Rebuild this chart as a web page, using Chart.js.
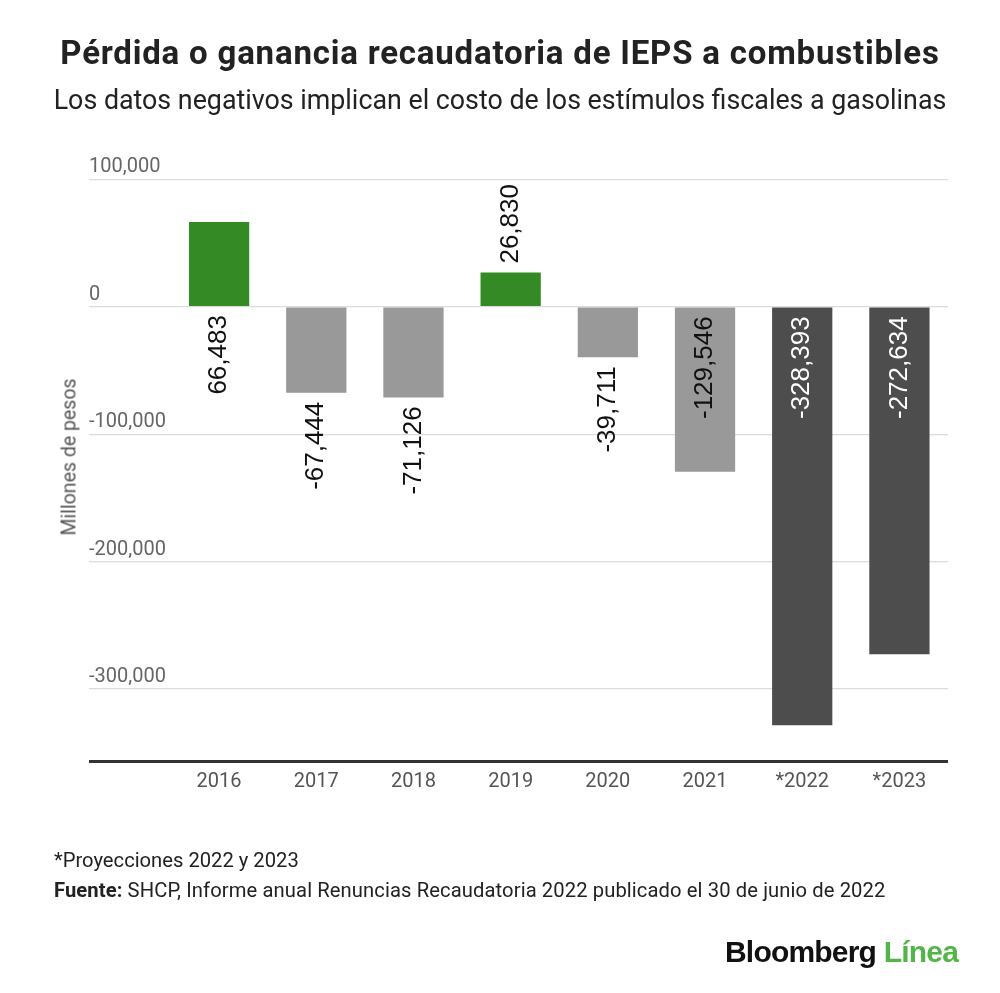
<!DOCTYPE html>
<html>
<head>
<meta charset="utf-8">
<script src="https://cdn.jsdelivr.net/npm/chart.js@4.4.1/dist/chart.umd.min.js"></script>
<style>
  html, body { margin: 0; padding: 0; background: #fff; }
  #page { position: relative; width: 1000px; height: 993px; overflow: hidden; background: #fff; }
  #chartWrap { position: absolute; left: 0; top: 0; width: 1000px; height: 993px; }
  .txt { position: absolute; white-space: nowrap; line-height: 1; }
  #title { left: 0; width: 1000px; text-align: center; top: 32.5px; font: bold 33px Roboto, sans-serif; letter-spacing: 0.8px; color: #222; }
  #subtitle { left: 0; width: 1000px; text-align: center; top: 84px; font: 26.8px Roboto, sans-serif; color: #222; }
  #ytitle { left: 69px; top: 457px; font: 19.5px Roboto, sans-serif; color: #555; transform: translate(-50%, -50%) rotate(-90deg); }
  #note { left: 54px; top: 848px; font: 20.2px Roboto, sans-serif; color: #222; }
  #source { left: 54px; top: 878px; font: 20.2px Roboto, sans-serif; color: #222; letter-spacing: 0.1px; }
  #logo { left: 725px; top: 935px; font: bold 30px "Liberation Sans", Arial, sans-serif; color: #111; letter-spacing: -0.8px; }
  #logo span { color: #52b548; }
</style>
</head>
<body>
<div id="page">
  <div id="chartWrap"><canvas id="c"></canvas></div>
  <div class="txt" id="title">Pérdida o ganancia recaudatoria de IEPS a combustibles</div>
  <div class="txt" id="subtitle">Los datos negativos implican el costo de los estímulos fiscales a gasolinas</div>
  <div class="txt" id="ytitle">Millones de pesos</div>
  <div class="txt" id="note">*Proyecciones 2022 y 2023</div>
  <div class="txt" id="source"><b>Fuente:</b> SHCP, Informe anual Renuncias Recaudatoria 2022 publicado el 30 de junio de 2022</div>
  <div class="txt" id="logo">Bloomberg <span>Línea</span></div>
</div>
<script>
// ---- Data ----
const categories = ['2016', '2017', '2018', '2019', '2020', '2021', '*2022', '*2023'];
const values = [66483, -67444, -71126, 26830, -39711, -129546, -328393, -272634];
const yTickValues = [100000, 0, -100000, -200000, -300000];
const Y_MAX = 100000;
const Y_MIN = -357000;

// ---- Styles ----
const GREEN = '#348a24';
const GRAY = '#999999';
const DARK = '#4d4d4d';

function barColor(i) {
  const v = values[i];
  if (v >= 0) return GREEN;
  if (categories[i].startsWith('*')) return DARK;
  return GRAY;
}

const fmt = (v) => v.toLocaleString('en-US');

const barLabelPlugin = {
  id: 'barLabels',
  afterDatasetsDraw(chart) {
    const ctx = chart.ctx;
    const meta = chart.getDatasetMeta(0);
    const area = chart.chartArea;
    const pad = 9;
    ctx.save();
    ctx.font = '26px "Liberation Sans", Arial, sans-serif';
    meta.data.forEach((el, i) => {
      const v = values[i];
      const text = fmt(v);
      const w = ctx.measureText(text).width;
      const base = el.base;
      const end = el.y;
      const len = Math.abs(base - end);
      let top, color = '#111';
      if (w + 2 * pad <= len) {
        // inside, anchored at the base
        if (v < 0) top = base + pad; else top = base - pad - w;
        color = barColor(i) === DARK ? '#ffffff' : '#111';
      } else if (v >= 0) {
        top = end - pad - w;
        if (top < area.top) top = base + pad;
      } else {
        top = end + pad;
      }
      ctx.save();
      ctx.translate(el.x, top + w / 2);
      ctx.rotate(-Math.PI / 2);
      ctx.textAlign = 'center';
      ctx.textBaseline = 'middle';
      ctx.fillStyle = color;
      ctx.fillText(text, 0, 0);
      ctx.restore();
    });
    ctx.restore();
  }
};

new Chart(document.getElementById('c'), {
  type: 'bar',
  data: {
    labels: categories,
    datasets: [{
      data: values,
      backgroundColor: (c) => barColor(c.dataIndex),
      borderWidth: 0,
      barPercentage: 0.62,
      categoryPercentage: 1.0
    }]
  },
  options: {
    responsive: true,
    maintainAspectRatio: false,
    animation: false,
    devicePixelRatio: 1,
    layout: { padding: { left: 89, right: 52, top: 179.3, bottom: 191.3 } },
    plugins: {
      legend: { display: false },
      tooltip: { enabled: false },
      title: { display: false }
    },
    scales: {
      x: {
        offset: true,
        grid: { display: false, drawTicks: false },
        border: { display: false },
        ticks: {
          color: '#555',
          font: { family: 'Roboto', size: 20 },
          padding: 8,
          maxRotation: 0,
          autoSkip: false
        },
        afterFit: (s) => { s.height = 40; }
      },
      y: {
        min: Y_MIN,
        max: Y_MAX,
        border: { display: false },
        afterBuildTicks: (s) => {
          s.ticks = [Y_MIN].concat(yTickValues.slice().reverse()).map(v => ({ value: v }));
        },
        afterFit: (s) => { s.width = 81.5; },
        grid: {
          drawTicks: true,
          tickLength: 81.5,
          color: (c) => (c.tick && c.tick.value === Y_MIN) ? '#333333' : '#dcdcdc',
          lineWidth: (c) => (c.tick && c.tick.value === Y_MIN) ? 3 : 1.3
        },
        ticks: {
          crossAlign: 'far',
          labelOffset: -12,
          color: '#666',
          font: { family: 'Roboto', size: 20 },
          callback: (v) => v === Y_MIN ? '' : fmt(v)
        }
      }
    }
  },
  plugins: [barLabelPlugin]
});
</script>
</body>
</html>
